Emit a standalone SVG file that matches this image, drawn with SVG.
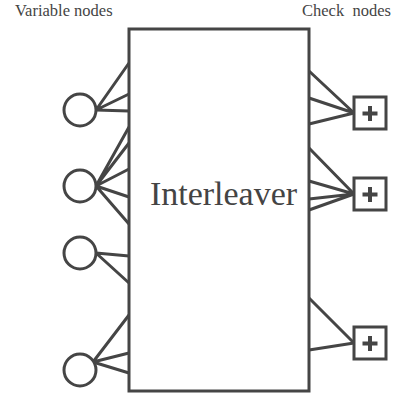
<svg xmlns="http://www.w3.org/2000/svg" width="398" height="396" viewBox="0 0 398 396">
<style>
.ln{stroke:#454545;stroke-width:3;fill:none;stroke-linecap:butt}
.nd{stroke:#454545;stroke-width:3;fill:#fff}
.pl{stroke:#454545;stroke-width:4;fill:none}
.lbl{font-family:"Liberation Serif","Times New Roman",serif;fill:#444}
</style>
<rect width="398" height="396" fill="#fff"/>
<text class="lbl" x="15" y="16" font-size="16.5">Variable nodes</text>
<text class="lbl" x="302" y="16" font-size="16.5" xml:space="preserve">Check  nodes</text>
<g id="connectors">
<path class="ln" d="M96,110 L129,63 M96,110 L129,94 M96,110 L129,111"/>
<path class="ln" d="M96,186 L129,127 M96,186 L129,143 M96,186 L129,169 M96,186 L129,197 M96,186 L129,224"/>
<path class="ln" d="M96,253 L129,256 M96,253 L129,283"/>
<path class="ln" d="M93,362 L129,315 M93,362 L129,353 M93,362 L129,373"/>
<path class="ln" d="M309,71 L354,113 M309,98 L354,113 M309,124 L354,113"/>
<path class="ln" d="M309,148 L354,194 M309,181 L354,194 M309,199 L354,194 M309,210 L354,194"/>
<path class="ln" d="M309,298 L354,343 M309,350 L354,343"/>
</g>
<g id="interleaver">
<rect class="nd" x="129" y="29" width="180" height="362"/>
<text class="lbl" x="223.5" y="205" font-size="34" text-anchor="middle">Interleaver</text>
</g>
<g id="v1"><circle class="nd" cx="80" cy="110" r="16"/></g>
<g id="v2"><circle class="nd" cx="80" cy="186" r="16"/></g>
<g id="v3"><circle class="nd" cx="80" cy="253" r="16"/></g>
<g id="v4"><circle class="nd" cx="80" cy="370" r="16"/></g>
<g id="c1"><rect class="nd" x="354" y="97" width="32" height="32"/><path class="pl" d="M362.5,113.5 H377.5 M370,106 V121"/></g>
<g id="c2"><rect class="nd" x="354" y="178" width="32" height="32"/><path class="pl" d="M362.5,194.5 H377.5 M370,187 V202"/></g>
<g id="c3"><rect class="nd" x="354" y="327" width="32" height="32"/><path class="pl" d="M362.5,343.5 H377.5 M370,336 V351"/></g>
</svg>
